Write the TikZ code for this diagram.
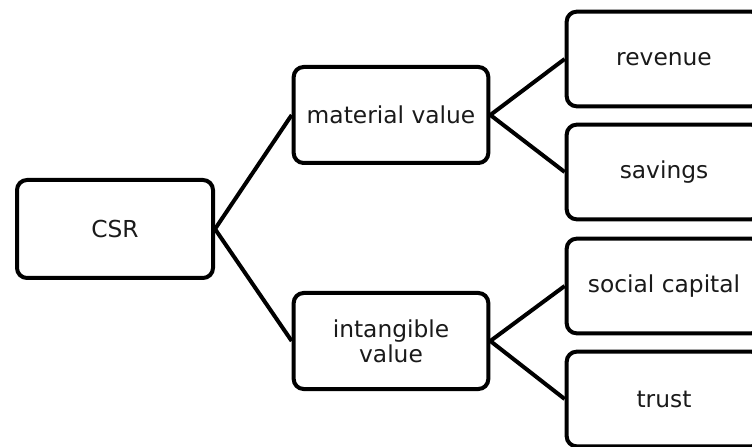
\documentclass[tikz,border=0pt]{standalone}
\usepackage{fontspec}
\setmainfont{DejaVu Sans}
\usetikzlibrary{positioning}
\definecolor{cline}{HTML}{000000}
\definecolor{ctext}{HTML}{1A1A1A}
\tikzset{
  every picture/.style={line width=3pt},
  box/.style={draw=cline, fill=white, rounded corners=7.5pt, align=center, text=ctext,
    minimum width=146pt, minimum height=72pt, inner sep=4pt,
    font=\fontsize{17.5pt}{18.8pt}\selectfont},
  link/.style={draw=cline, line width=3pt},
}
\begin{document}
\begin{tikzpicture}[x=0.75pt, y=0.75pt]
  \useasboundingbox (0,0) rectangle (752,446);
  \node[box, minimum width=147pt, minimum height=73.5pt] (csr) at (115,217) {CSR};
  \node[box] (matval) at (391,331) {material value};
  \node[box] (intval) at (391,105) {intangible\\value};
  % leaves, cut by the right edge
  \foreach \n/\y/\t in {revenue/387/revenue, savings/274/savings, social/160/social capital, trust/47/trust} {
    \node[box, minimum height=71pt] (\n) at (664,\y) {\t};
  }
  \draw[link] (csr.east) -- (matval.west);
  \draw[link] (csr.east) -- (intval.west);
  \draw[link] (matval.east) -- (revenue.west);
  \draw[link] (matval.east) -- (savings.west);
  \draw[link] (intval.east) -- (social.west);
  \draw[link] (intval.east) -- (trust.west);
\end{tikzpicture}
\end{document}
